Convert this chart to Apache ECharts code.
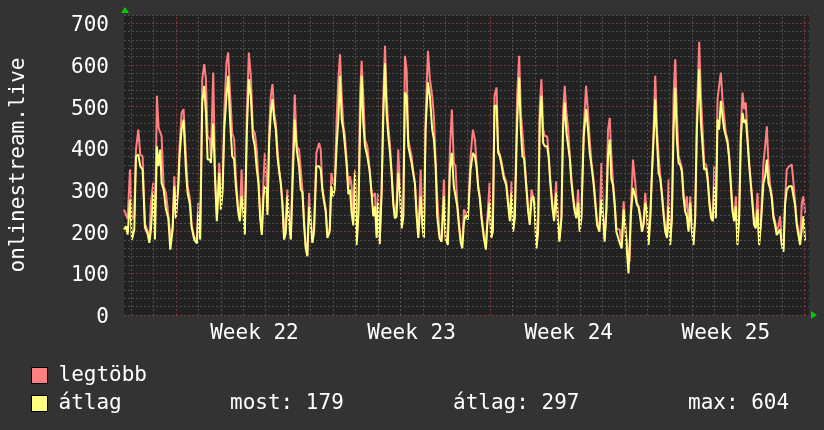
<!DOCTYPE html>
<html>
<head>
<meta charset="utf-8">
<script src="https://cdn.jsdelivr.net/npm/echarts@6/dist/echarts.min.js"></script>
<style>
html,body{margin:0;padding:0;background:#333333;}
#c{width:824px;height:430px;}
</style>
</head>
<body>
<div id="c"></div>
<script>
// hours since start of Week 22
const hours = [
-55.5,-53.4,-51.6,-49.1,-47.0,-44.5,-42.7,-40.2,-38.1,-35.6,
-34.5,-33.1,-30.2,-28.4,-26.7,-24.2,-22.4,-20.3,-18.5,-16.7,
-15.3,-13.1,-10.6,-8.1,-6.0,-3.5,-1.7,0.0,2.5,3.9,
6.1,8.2,10.7,12.5,15.0,16.8,19.6,22.5,23.9,26.0,
28.2,30.3,32.1,33.9,36.4,37.4,39.9,42.0,43.8,46.3,
48.1,49.9,51.7,54.1,55.9,58.1,60.2,62.3,64.1,66.6,
68.4,70.2,71.6,73.7,75.9,78.0,80.1,82.3,84.4,86.5,
88.3,90.1,91.9,93.7,95.1,96.9,97.9,99.7,101.5,103.3,
105.1,106.8,108.6,110.4,112.2,114.0,115.7,117.5,119.3,121.1,
122.9,124.6,127.1,129.2,131.7,133.5,135.3,137.1,138.8,140.6,
142.4,144.2,146.0,147.7,150.2,153.1,154.9,156.6,158.4,160.2,
162.0,164.5,166.2,168.0,169.8,171.9,173.7,175.5,177.3,179.1,
180.8,182.6,184.4,186.2,187.9,189.7,191.5,193.3,195.1,196.9,
198.6,200.4,202.2,204.7,207.2,209.3,211.1,212.9,214.7,216.1,
217.9,220.0,221.8,223.6,225.3,227.1,228.9,230.7,232.5,234.2,
236.0,237.8,239.6,241.4,243.1,244.9,246.7,248.5,250.3,252.0,
253.8,255.6,257.4,259.2,261.7,263.8,265.2,267.0,269.5,271.6,
274.1,275.9,277.7,279.4,281.9,284.1,286.6,288.3,290.8,293.0,
295.1,297.2,299.0,300.8,302.6,304.4,306.2,308.0,309.7,312.2,
315.1,317.6,319.7,321.5,323.3,325.0,326.8,329.3,331.5,332.9,
335.4,337.2,338.9,340.7,342.9,344.6,346.4,348.2,350.7,353.2,
355.3,357.1,358.9,360.6,362.4,364.9,367.1,368.8,370.6,372.4,
374.5,376.7,378.4,380.2,382.0,383.4,385.6,387.3,389.1,390.9,
392.7,394.5,397.0,398.7,400.5,402.7,404.4,406.6,408.7,410.1,
412.3,414.0,415.8,417.6,419.4,421.2,422.9,424.7,426.5,428.3,
430.1,431.8,433.6,436.1,438.6,440.7,442.5,444.3,446.8,448.6,
450.4,452.9,455.0,456.8,458.5,460.3,462.1,463.9,465.7,467.4,
469.2,471.0,472.8,474.6,476.7,478.8,480.6,482.4,484.0,485.3,
486.5,488.8,491.2,493.0,494.8,496.6,498.4,500.1,501.9,503.7,
505.5,507.3,509.0,510.8,512.6,514.4,516.2,517.9,519.7,521.5,
523.3,525.1,526.8,528.6,530.4,532.2,534.0,535.7,537.5,539.3,
541.1,542.9,544.6,546.4,548.2,550.0,551.8,553.5,555.3,557.1,
559.6,561.4,563.2,564.9,567.1,568.8,570.6,572.4,574.2,575.6,
577.4,579.2,580.9,582.7,584.5,586.3,588.1,589.9,591.6,593.4,
595.2,597.0,598.8,600.5,602.3,604.1,605.9,607.7,609.4,611.2,
613.0,614.8,616.6,618.3,620.1,621.9,623.7,625.5,628.3,630.1,
631.9,633.6,635.4,637.2,639.0,640.8,642.5,644.3,646.1,647.9,
649.7,651.4,653.2,655.7,658.6,660.4,662.1,663.9,665.7,667.5,
669.3,671.1,672.8
];
// "legtöbb" (max) values
const maxVals = [
253,253,230,349,230,237,397,445,385,381,
300,220,200,180,269,317,190,526,449,445,
429,309,293,240,189,210,333,240,315,405,
485,494,381,309,280,218,185,182,269,205,
566,602,566,429,421,381,582,330,232,365,
285,305,485,606,630,526,437,421,330,258,
232,349,272,200,485,630,574,445,437,397,
325,242,200,325,389,317,250,445,526,554,
485,461,400,349,317,269,185,237,301,225,
185,349,529,405,397,349,301,225,168,145,
293,293,175,208,389,413,397,305,280,256,
192,208,341,317,312,469,566,626,526,453,
429,370,305,333,309,225,349,176,248,526,
610,526,421,405,349,293,285,293,192,293,
173,301,526,646,526,453,410,341,269,240,
269,397,305,216,240,622,590,421,421,381,
345,317,245,192,349,213,189,469,634,566,
526,477,370,285,192,184,325,192,176,397,
493,365,357,272,224,184,168,253,253,237,
381,445,421,365,309,285,240,192,160,224,
317,192,210,526,546,397,385,368,336,320,
272,232,321,208,240,526,622,485,437,385,
320,256,224,301,301,272,168,208,502,566,
445,429,429,384,320,264,232,321,224,184,
240,485,550,485,448,384,328,288,256,240,
301,208,240,445,550,485,421,368,320,272,
224,208,365,240,184,256,445,473,381,320,
272,208,208,205,168,273,216,170,125,130,
253,373,317,269,261,240,208,224,293,293,
176,240,345,445,574,445,381,336,296,248,
208,192,325,176,240,526,614,485,381,368,
352,288,256,285,208,285,208,176,240,485,
656,526,445,365,360,328,272,240,232,357,
240,518,514,582,518,477,437,421,384,320,
256,232,285,176,240,445,534,494,510,430,
368,320,272,224,216,293,176,224,365,405,
453,365,312,288,240,224,200,213,237,176,
160,272,349,357,361,317,272,224,200,176,
269,285,245
];
// "átlag" (average) values
const avgVals = [
205,213,193,277,181,205,381,385,357,349,
290,210,195,173,205,293,181,405,357,397,
317,301,253,232,157,205,309,232,305,381,
445,469,349,293,265,210,181,172,245,181,
510,550,485,373,373,365,460,320,225,341,
253,295,445,526,574,461,381,373,309,248,
225,285,262,193,445,566,526,429,405,349,
317,232,192,285,309,301,240,413,485,518,
469,445,380,345,315,261,181,197,285,221,
181,300,469,397,357,301,295,217,160,141,
261,265,173,200,357,357,349,300,272,248,
185,200,309,285,302,405,469,574,469,445,
405,360,290,301,245,215,341,168,240,445,
574,461,405,381,345,290,237,261,185,269,
170,295,477,604,485,429,390,338,265,232,
237,341,295,208,232,534,526,405,405,365,
340,315,240,185,285,210,185,445,558,526,
445,421,360,237,185,176,285,184,168,349,
389,309,285,262,216,176,160,221,240,229,
349,389,381,355,305,280,232,185,157,216,
269,185,200,502,502,389,381,360,328,312,
264,225,293,200,232,461,570,445,381,375,
312,248,216,277,285,262,160,200,469,526,
413,405,405,376,312,256,225,293,216,176,
232,445,510,437,440,376,320,280,248,232,
269,200,232,429,494,445,389,360,312,264,
216,200,277,232,176,248,381,421,325,312,
264,200,200,173,160,253,208,150,100,102,
240,305,285,265,258,232,200,216,269,253,
168,232,335,421,518,421,341,328,288,240,
200,185,261,168,232,445,546,421,365,360,
344,280,248,237,200,269,200,168,232,445,
590,461,405,349,352,320,264,232,225,309,
232,469,445,514,477,445,429,413,376,312,
248,225,261,168,232,421,485,461,469,420,
360,312,264,216,208,253,168,216,317,333,
373,317,304,280,232,216,192,189,205,168,
152,264,301,309,309,285,264,216,192,168,
205,237,179
];
const weekLabels = ['Week 22','Week 23','Week 24','Week 25'];
const weekCenters = [84, 252, 420, 588];
const seriesNames = ['legtöbb', 'átlag'];
const yName = 'onlinestream.live';
const statMost = 179, statAvg = 297, statMax = 604;

const F = "'DejaVu Sans Mono', monospace";
const xMin = -55.5, xMax = 677;

const dayLines = [];
for (let d = -48; d <= 672; d += 24) {
  dayLines.push({xAxis: d, lineStyle: {color: d % 168 === 0 ? '#7e3838' : '#505050', type: [2, 2], width: 1}});
}

const chart = echarts.init(document.getElementById('c'), null, {renderer: 'canvas'});
chart.setOption({
  backgroundColor: '#333333',
  animation: false,
  grid: {left: 123, right: 15, top: 15, bottom: 115, show: true, backgroundColor: '#222222', borderWidth: 0},
  xAxis: {
    type: 'value', min: xMin, max: xMax,
    axisLine: {show: false}, axisTick: {show: false}, splitLine: {show: false},
    axisLabel: {
      customValues: weekCenters,
      formatter: v => weekLabels[weekCenters.indexOf(Math.round(v))] || '',
      color: '#ffffff', fontFamily: F, fontSize: 21, margin: 8
    }
  },
  yAxis: {
    type: 'value', min: 0, max: 720, interval: 20,
    axisLine: {show: false}, axisTick: {show: false},
    axisLabel: {
      formatter: v => (v % 100 === 0 ? '{v|' + v + '}' : ''),
      margin: 15,
      rich: {v: {color: '#ffffff', fontFamily: F, fontSize: 21, padding: [5, 0, 0, 0]}}
    },
    splitLine: {show: true, lineStyle: {color: ['#7e3838', '#505050', '#505050', '#505050', '#505050'], type: [2, 2], width: 1}},
    name: yName, nameLocation: 'middle', nameRotate: 90, nameGap: 95,
    nameTextStyle: {color: '#ffffff', fontFamily: F, fontSize: 21}
  },
  legend: {
    orient: 'vertical', left: 31, top: 365, padding: 0, itemWidth: 16, itemHeight: 16, itemGap: 7,
    icon: 'rect', data: seriesNames,
    itemStyle: {borderColor: '#000000', borderWidth: 1},
    textStyle: {color: '#ffffff', fontFamily: F, fontSize: 21, padding: [0, 0, 0, 6]}
  },
  graphic: [
    {type: 'text', left: 230, top: 393, style: {text: 'most: ' + statMost, fill: '#ffffff', font: "21px 'DejaVu Sans Mono'"}},
    {type: 'text', left: 453, top: 393, style: {text: 'átlag: ' + statAvg, fill: '#ffffff', font: "21px 'DejaVu Sans Mono'"}},
    {type: 'text', left: 688, top: 393, style: {text: 'max: ' + statMax, fill: '#ffffff', font: "21px 'DejaVu Sans Mono'"}},
    {type: 'polygon', shape: {points: [[125, 7], [121, 13], [129, 13]]}, style: {fill: '#00cc00'}},
    {type: 'polygon', shape: {points: [[817, 315], [811, 311], [811, 319]]}, style: {fill: '#00cc00'}}
  ],
  series: [
    {
      type: 'line', name: '_grid', data: [], z: 1, silent: true,
      markLine: {silent: true, symbol: ['none', 'none'], label: {show: false}, animation: false, data: dayLines}
    },
    {
      type: 'line', name: seriesNames[0], z: 3, showSymbol: false, symbol: 'none',
      color: '#ff8080', lineStyle: {color: '#ff8080', width: 2},
      data: hours.map((h, i) => [h, maxVals[i]])
    },
    {
      type: 'line', name: seriesNames[1], z: 4, showSymbol: false, symbol: 'none',
      color: '#ffff80', lineStyle: {color: '#ffff80', width: 2},
      data: hours.map((h, i) => [h, avgVals[i]])
    }
  ]
});
</script>
</body>
</html>
